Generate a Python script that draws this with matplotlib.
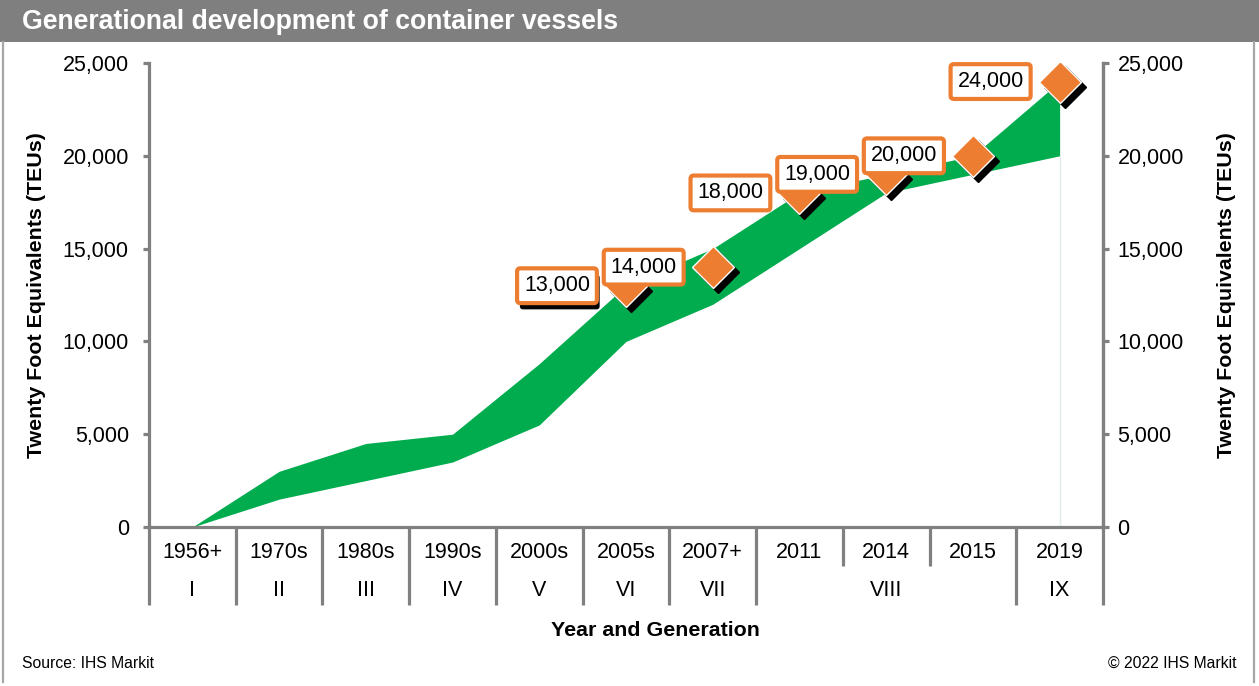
import matplotlib
matplotlib.use("Agg")
import matplotlib.pyplot as plt
import matplotlib.patheffects as pe
from matplotlib.transforms import blended_transform_factory, ScaledTranslation
from matplotlib.patches import Rectangle
from matplotlib.lines import Line2D

plt.rcParams['font.family'] = ['Liberation Sans', 'DejaVu Sans']

# ---- data ----
years = ["1956+", "1970s", "1980s", "1990s", "2000s", "2005s", "2007+",
         "2011", "2014", "2015", "2019"]
generations = ["I", "II", "III", "IV", "V", "VI", "VII", "VIII", "IX"]
gen_spans = [(0, 0), (1, 1), (2, 2), (3, 3), (4, 4), (5, 5), (6, 6), (7, 9), (10, 10)]
teu_lower = [0, 1500, 2500, 3500, 5500, 10000, 12000, 15000, 18000, 19000, 20000]
teu_upper = [0, 3000, 4500, 5000, 8800, 13000, 15000, 18000, 19000, 20000, 24000]
marker_idx = [5, 6, 7, 8, 9, 10]
marker_vals = [13000, 14000, 18000, 19000, 20000, 24000]
yticks = [0, 5000, 10000, 15000, 20000, 25000]

GREY = '#808080'
GREEN = '#00AC4E'
ORANGE = '#ED7D31'
FS = 15.5

W, H = 1259, 686
fig = plt.figure(figsize=(W / 100, H / 100), dpi=100)

# frame and header
fig.patches.append(Rectangle((0, 1 - 42 / H), 1, 42 / H, transform=fig.transFigure,
                             facecolor='#7F7F7F', edgecolor='none', zorder=0))
fig.lines.append(Line2D([3 / W, 3 / W], [4 / H, 1 - 42 / H], transform=fig.transFigure,
                        color='#A6A6A6', lw=1.6))
fig.lines.append(Line2D([1254 / W, 1254 / W], [4 / H, 1 - 42 / H], transform=fig.transFigure,
                        color='#A6A6A6', lw=1.6))
fig.text(22 / W, 1 - 22 / H, "Generational development of container vessels",
         color='white', fontsize=19.2, fontweight='bold', ha='left', va='center')
fig.text(22 / W, 1 - 663 / H, "Source: IHS Markit", fontsize=11.3, ha='left', va='center')
fig.text(1237 / W, 1 - 663 / H, "\u00a9 2022 IHS Markit", fontsize=11.3, ha='right', va='center')

left, right, top, bottom = 149, 1103, 63, 527
ax = fig.add_axes([left / W, 1 - bottom / H, (right - left) / W, (bottom - top) / H])
ax.set_xlim(-0.5, len(years) - 0.5)
ax.set_ylim(0, 25000)

x = list(range(len(years)))
ax.fill_between(x, teu_lower, teu_upper, color=GREEN, linewidth=0, zorder=2)
ax.vlines(len(years) - 1, 0, teu_lower[-1], color='#E3ECEC', lw=1, zorder=1)

# markers with shadow
shadow = ax.transData + ScaledTranslation(5 / 100, -5 / 100, fig.dpi_scale_trans)
ax.plot(marker_idx, marker_vals, linestyle='none', marker='D', markersize=21.5,
        color='black', markeredgecolor='black', transform=shadow, zorder=3)
ax.plot(marker_idx, marker_vals, linestyle='none', marker='D', markersize=21.5,
        color=ORANGE, markeredgecolor='white', markeredgewidth=1, zorder=4)

for i, (xi, v) in enumerate(zip(marker_idx, marker_vals)):
    t = ax.annotate(f"{v:,}", (xi, v), xytext=(-49.7, 0), textcoords='offset points',
                    ha='center', va='center', fontsize=FS, color='black', zorder=6,
                    bbox=dict(boxstyle='round,pad=0.32,rounding_size=0.15', fc='white',
                              ec=ORANGE, lw=3))
    if i == 0:
        t.get_bbox_patch().set_path_effects(
            [pe.SimplePatchShadow(offset=(2, -4.5), shadow_rgbFace='black', alpha=1),
             pe.Normal()])

# axes styling
ax.spines['top'].set_visible(False)
for s in ['left', 'right', 'bottom']:
    ax.spines[s].set_color(GREY)
    ax.spines[s].set_linewidth(2.3)
ax.set_xticks([])
ax.set_yticks(yticks)
ax.set_yticklabels([f"{t:,}" for t in yticks])
ax.tick_params(axis='y', which='both', direction='out', length=4.5, width=2.3,
               color=GREY, labelsize=FS, pad=10)
ax.set_ylabel("Twenty Foot Equivalents (TEUs)", fontsize=15.4, fontweight='bold')
ax.yaxis.set_label_coords((46 - left) / (right - left), 0.5)

ax2 = ax.twinx()
ax2.set_ylim(0, 25000)
ax2.set_yticks(yticks)
ax2.set_yticklabels([f"{t:,}" for t in yticks])
for s in ['top', 'left', 'bottom']:
    ax2.spines[s].set_visible(False)
ax2.spines['right'].set_color(GREY)
ax2.spines['right'].set_linewidth(2.3)
ax2.tick_params(axis='y', direction='out', length=4.5, width=2.3, color=GREY,
                labelsize=FS, pad=6)
ax2.set_ylabel("Twenty Foot Equivalents (TEUs)", fontsize=15.4, fontweight='bold',
               rotation=90)
ax2.yaxis.set_label_coords((1217 - left) / (right - left), 0.5)

# multi-level category axis
tr = blended_transform_factory(ax.transData, ax.transAxes)
full = 78 / (bottom - top)
short = 39 / (bottom - top)
for b in range(len(years) + 1):
    pos = b - 0.5
    length = short if b in (8, 9) else full
    ax.plot([pos, pos], [0, -length], transform=tr, color=GREY, lw=2.3,
            clip_on=False, solid_capstyle='butt', zorder=1)
for i, yr in enumerate(years):
    ax.text(i, -25 / (bottom - top), yr, transform=tr, ha='center', va='center', fontsize=FS)
for g, (a, b) in zip(generations, gen_spans):
    ax.text((a + b) / 2, -63 / (bottom - top), g, transform=tr, ha='center', va='center',
            fontsize=FS)
fig.text(655 / W, 1 - 630 / H, "Year and Generation", fontsize=15.4, fontweight='bold',
         ha='center', va='center')

fig.savefig("out.png", dpi=100)
